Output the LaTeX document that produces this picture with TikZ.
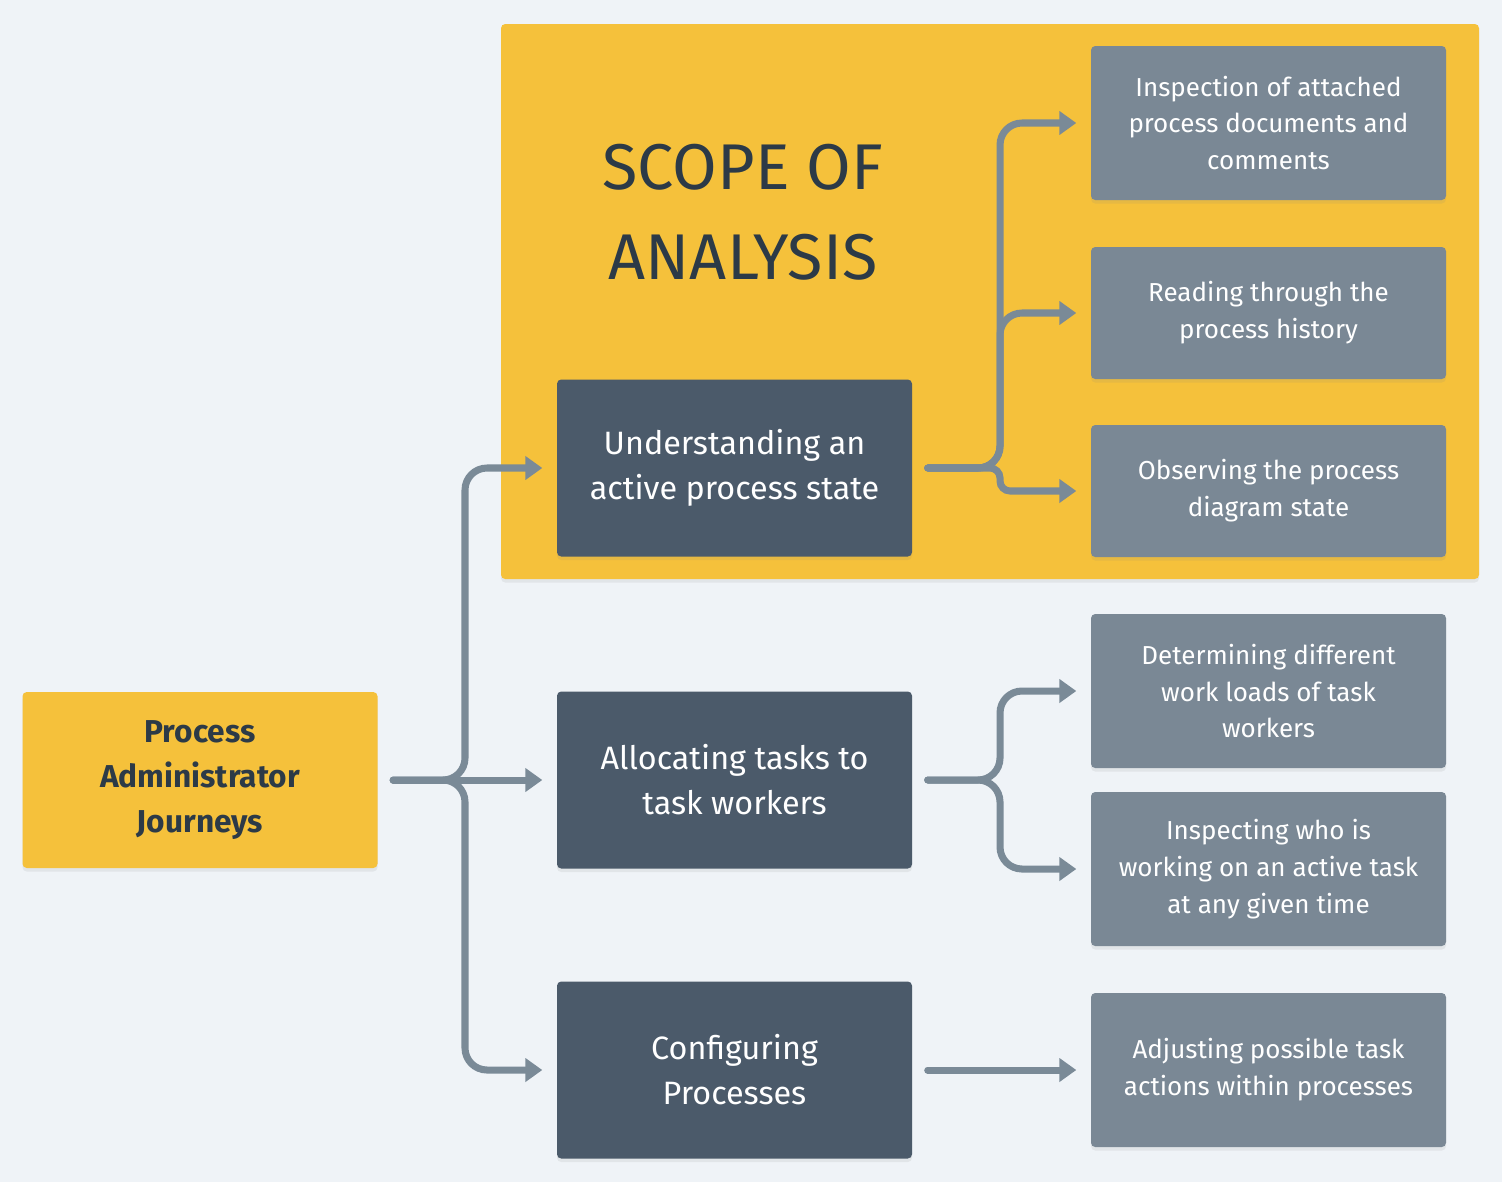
\documentclass[tikz,border=0pt]{standalone}
\usepackage{fontspec}
\setmainfont{Fira Sans}
\usepackage{tikz}
\usetikzlibrary{arrows.meta,shadows}

\definecolor{bgcol}{HTML}{EFF3F7}
\definecolor{scopecol}{HTML}{F5C13B}
\definecolor{darkcol}{HTML}{4B5A6A}
\definecolor{greycol}{HTML}{7A8895}
\definecolor{linecol}{HTML}{7A8A97}
\definecolor{inkcol}{HTML}{2C3A47}

\tikzset{
  boxshadow/.style={drop shadow={opacity=0.12,shadow xshift=0pt,shadow yshift=-1pt}},
  rootbox/.style={shape=rectangle,rounded corners=1.2pt,fill=scopecol,boxshadow,
    minimum width=3.55cm,minimum height=1.76cm,align=center,text=inkcol,
    font=\fontsize{9}{12.8}\selectfont\bfseries},
  darkbox/.style={shape=rectangle,rounded corners=1.2pt,fill=darkcol,boxshadow,
    minimum width=3.55cm,minimum height=1.77cm,align=center,text=white,
    font=\fontsize{9.2}{12.8}\selectfont},
  greybox/.style={shape=rectangle,rounded corners=1.2pt,fill=greycol,boxshadow,
    minimum width=3.55cm,align=center,text=white,
    font=\fontsize{7.4}{10.5}\selectfont},
  conn/.style={draw=linecol,line width=2pt,line cap=round,rounded corners=0.22cm,
    -{Triangle[width=6.5pt,length=4.8pt]},shorten <=0.15cm,shorten >=0.14cm}
}

\begin{document}
\begin{tikzpicture}
  \useasboundingbox[fill=bgcol] (0,0) rectangle (15.02,11.82);
  % scope of analysis area
  \fill[scopecol,rounded corners=1.2pt,boxshadow] (5.01,6.03) rectangle (14.79,11.58);
  \path (7.43,9.70) node [text=inkcol,align=center,font=\fontsize{18.4}{25.5}\selectfont] (scope) {SCOPE OF\\ANALYSIS};

  \path (2.00,4.02) node [rootbox] (root) {Process\\Administrator\\Journeys}
        (7.345,7.14) node [darkbox] (state) {Understanding an\\active process state}
        (7.345,4.02) node [darkbox] (alloc) {Allocating tasks to\\task workers}
        (7.345,1.12) node [darkbox] (config) {Configuring\\Processes};

  \path (12.685,10.59) node [greybox,minimum height=1.54cm] (docs) {Inspection of attached\\process documents and\\comments}
        (12.685,8.69) node [greybox,minimum height=1.32cm] (history) {Reading through the\\process history}
        (12.685,6.91) node [greybox,minimum height=1.32cm] (diagram) {Observing the process\\diagram state}
        (12.685,4.91) node [greybox,minimum height=1.54cm] (loads) {Determining different\\work loads of task\\workers}
        (12.685,3.13) node [greybox,minimum height=1.54cm] (who) {Inspecting who is\\working on an active task\\at any given time}
        (12.685,1.12) node [greybox,minimum height=1.54cm] (actions) {Adjusting possible task\\actions within processes};

  % junctions
  \coordinate (j0) at (4.65,4.02);
  \coordinate (j1) at (10.00,7.14);
  \coordinate (j2) at (10.00,4.02);

  \draw[conn] (root.east) -- (j0) |- (state.west);
  \draw[conn] (root.east) -- (alloc.west);
  \draw[conn] (root.east) -- (j0) |- (config.west);

  \draw[conn] (state.east) -- (j1) |- (docs.west);
  \draw[conn] (state.east) -- (j1) |- (history.west);
  \draw[conn,rounded corners=0.1cm] (state.east) -- (j1) |- (diagram.west);

  \draw[conn] (alloc.east) -- (j2) |- (loads.west);
  \draw[conn] (alloc.east) -- (j2) |- (who.west);

  \draw[conn] (config.east) -- (actions.west);
\end{tikzpicture}
\end{document}
